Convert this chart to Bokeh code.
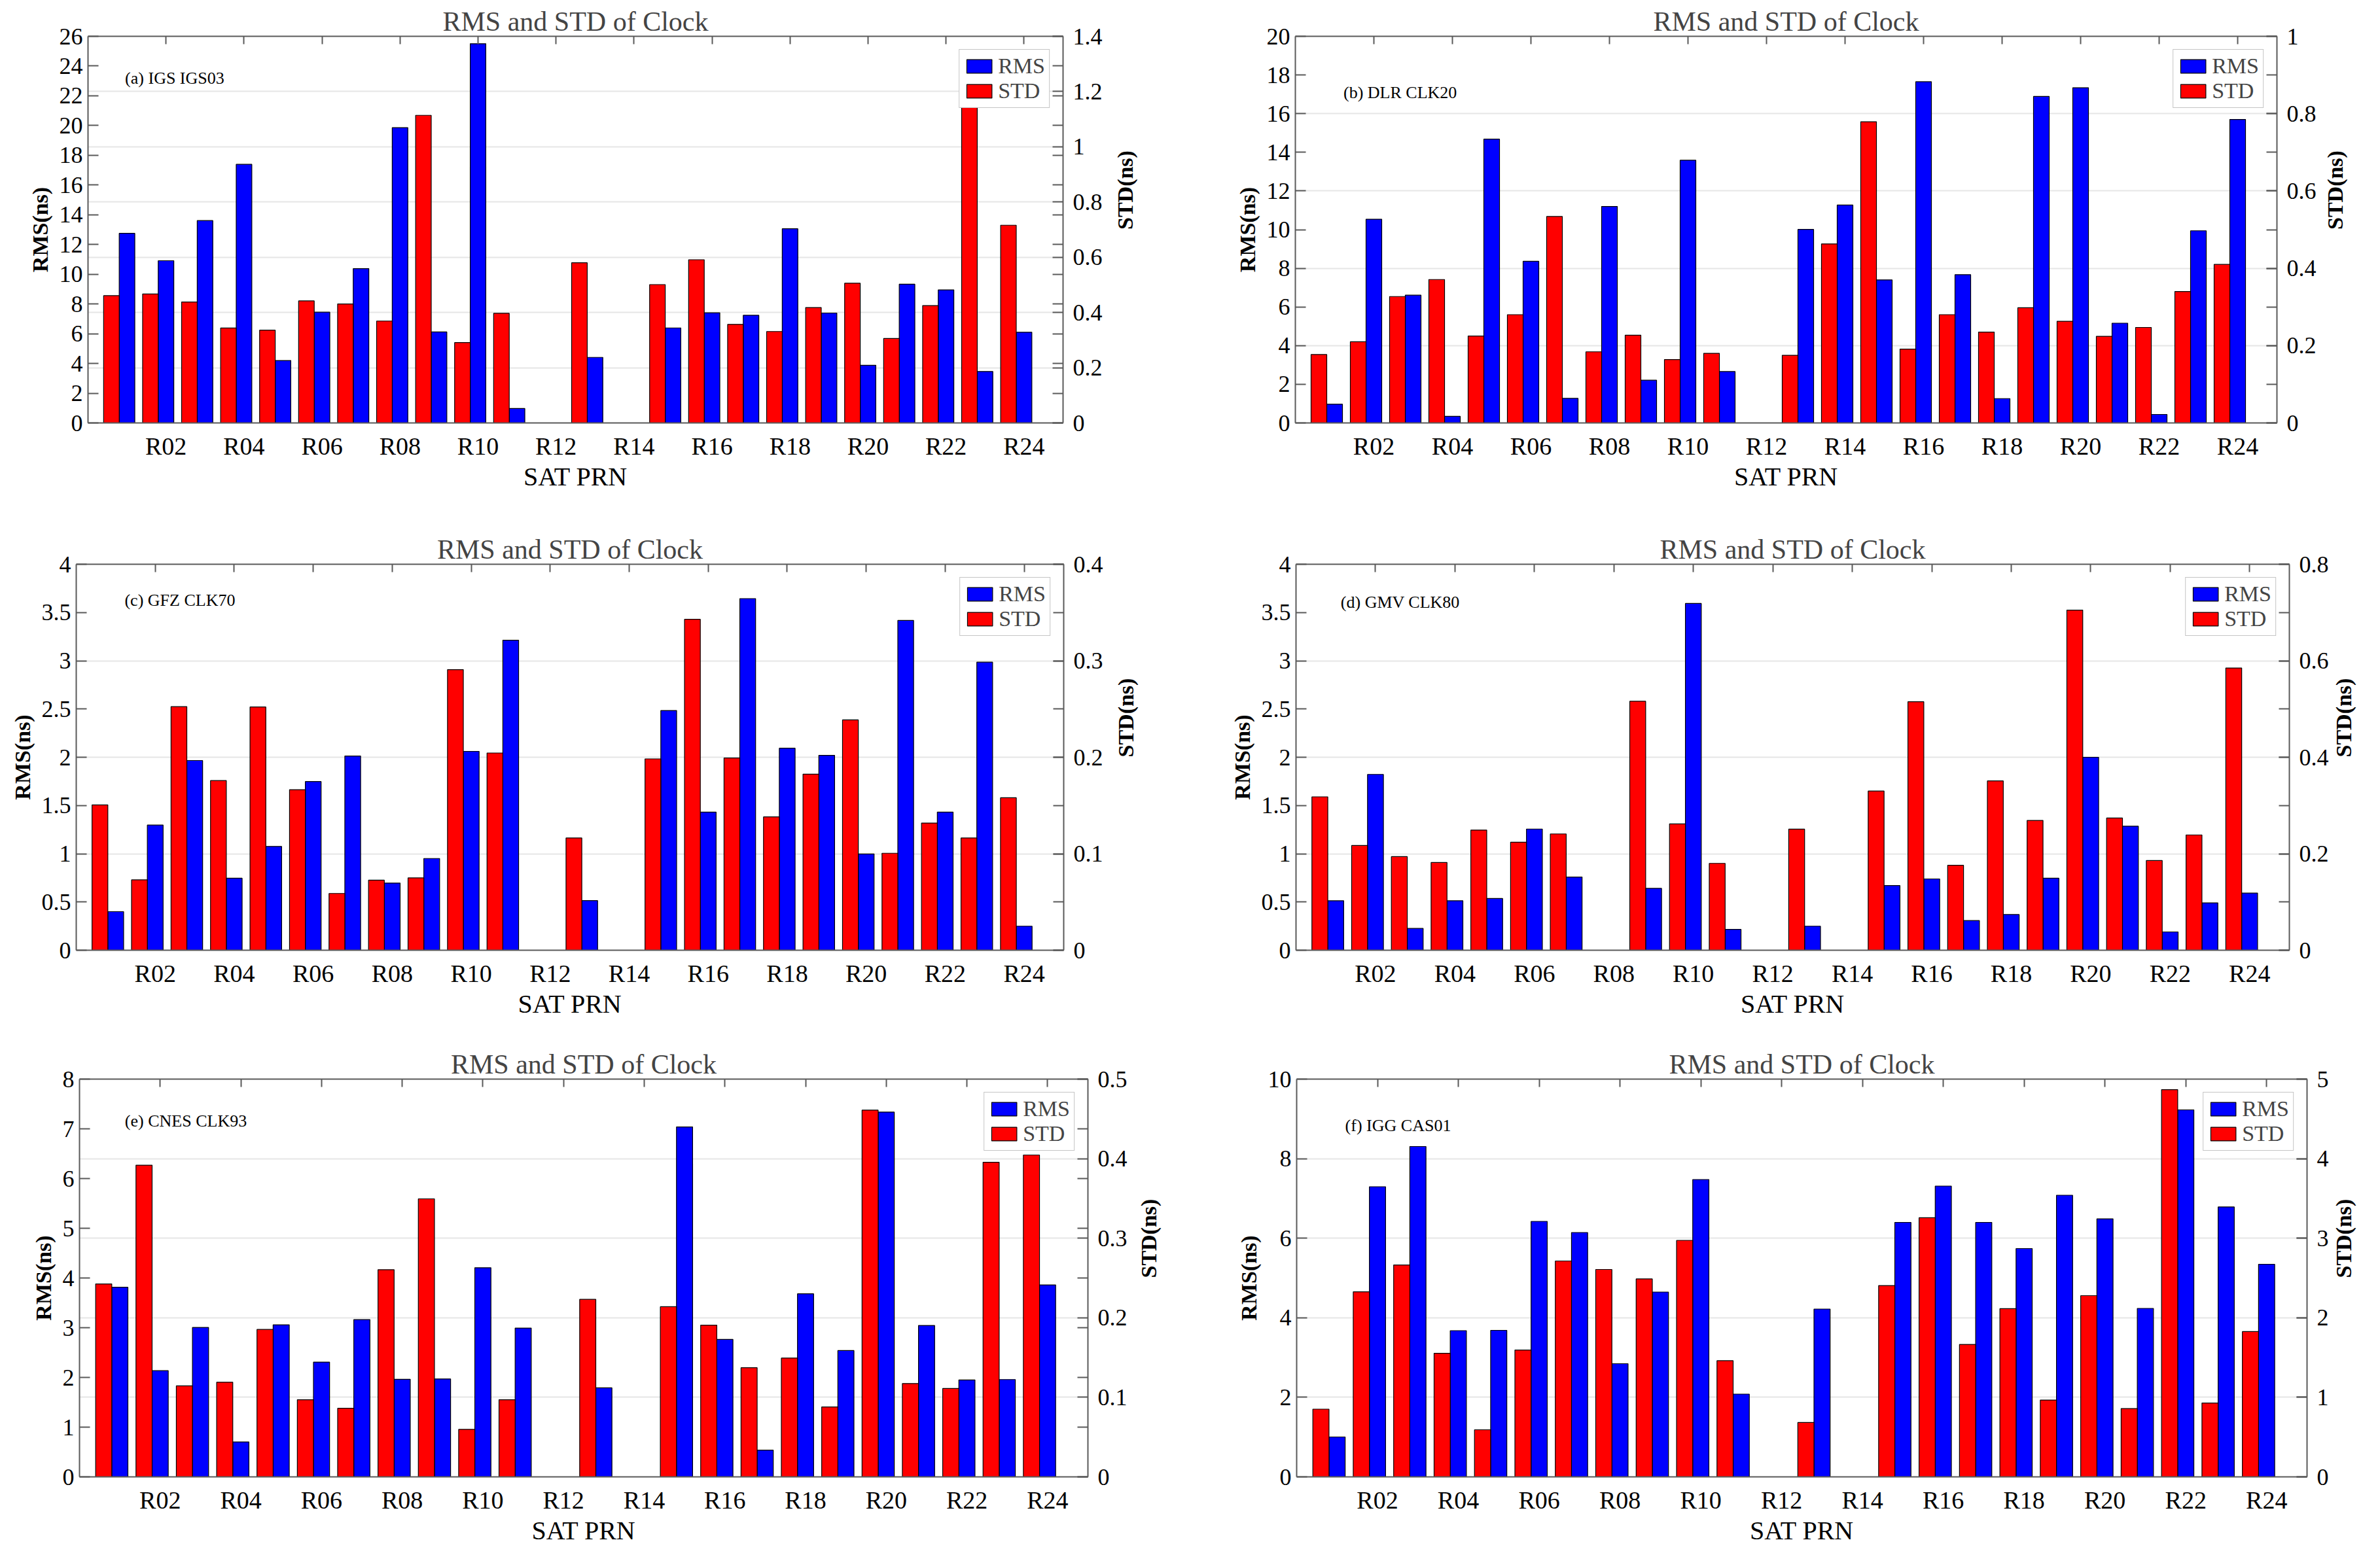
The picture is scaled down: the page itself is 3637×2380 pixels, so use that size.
import math
from bokeh.plotting import figure
from bokeh.models import (Range1d, LinearAxis, FixedTicker, Grid, ColumnDataSource,
                          Label, CustomJSTickFormatter)
from bokeh.transform import dodge
from bokeh.layouts import row, column
from bokeh.embed import file_html
from bokeh.resources import INLINE

nan = float("nan")

PRN = ["R%02d" % i for i in range(1, 25)]
X_TICK_PRN = PRN[1::2]          # R02 ... R24

TITLE = "RMS and STD of Clock"
X_LABEL = "SAT PRN"
Y_LABEL_LEFT = "RMS(ns)"
Y_LABEL_RIGHT = "STD(ns)"

# ---------------- (a) IGS IGS03 ----------------
A_TAG = "(a) IGS IGS03"
A_RMS = [12.75, 10.91, 13.61, 17.39, 4.20, 7.45, 10.38, 19.86, 6.12, 25.50, 0.97, nan,
         4.41, nan, 6.39, 7.41, 7.24, 13.06, 7.39, 3.88, 9.33, 8.95, 3.46, 6.10]
A_STD = [0.461, 0.467, 0.438, 0.344, 0.336, 0.442, 0.431, 0.369, 1.114, 0.291, 0.397, nan,
         0.580, nan, 0.501, 0.591, 0.357, 0.331, 0.418, 0.506, 0.306, 0.425, 1.300, 0.716]
A_RMS_TICKS = [0, 2, 4, 6, 8, 10, 12, 14, 16, 18, 20, 22, 24, 26]
A_STD_TICKS = [0, 0.2, 0.4, 0.6, 0.8, 1.0, 1.2, 1.4]

# ---------------- (b) DLR CLK20 ----------------
B_TAG = "(b) DLR CLK20"
B_RMS = [0.97, 10.54, 6.61, 0.34, 14.68, 8.36, 1.27, 11.20, 2.21, 13.59, 2.66, nan,
         10.01, 11.27, 7.40, 17.65, 7.67, 1.26, 16.89, 17.34, 5.16, 0.44, 9.94, 15.70]
B_STD = [0.177, 0.210, 0.327, 0.371, 0.225, 0.280, 0.534, 0.184, 0.227, 0.164, 0.180, nan,
         0.175, 0.463, 0.779, 0.191, 0.280, 0.235, 0.298, 0.263, 0.224, 0.247, 0.340, 0.410]
B_RMS_TICKS = [0, 2, 4, 6, 8, 10, 12, 14, 16, 18, 20]
B_STD_TICKS = [0, 0.2, 0.4, 0.6, 0.8, 1.0]

# ---------------- (c) GFZ CLK70 ----------------
C_TAG = "(c) GFZ CLK70"
C_RMS = [0.400, 1.297, 1.966, 0.746, 1.076, 1.748, 2.013, 0.696, 0.951, 2.061, 3.213, nan,
         0.514, nan, 2.484, 1.432, 3.644, 2.094, 2.020, 0.998, 3.418, 1.432, 2.985, 0.249]
C_STD = [0.1506, 0.0729, 0.2524, 0.1758, 0.2521, 0.1664, 0.0588, 0.0726, 0.0750, 0.2908, 0.2044, nan,
         0.1163, nan, 0.1983, 0.3429, 0.1993, 0.1382, 0.1825, 0.2387, 0.1005, 0.1318, 0.1163, 0.1580]
C_RMS_TICKS = [0, 0.5, 1, 1.5, 2, 2.5, 3, 3.5, 4]
C_STD_TICKS = [0, 0.1, 0.2, 0.3, 0.4]

# ---------------- (d) GMV CLK80 ----------------
D_TAG = "(d) GMV CLK80"
D_RMS = [0.513, 1.822, 0.226, 0.513, 0.536, 1.256, 0.759, nan, 0.641, 3.594, 0.216, nan,
         0.249, nan, 0.670, 0.739, 0.307, 0.370, 0.746, 2.000, 1.285, 0.190, 0.491, 0.592]
D_STD = [0.318, 0.217, 0.194, 0.182, 0.249, 0.224, 0.241, nan, 0.516, 0.262, 0.180, nan,
         0.251, nan, 0.330, 0.515, 0.176, 0.351, 0.269, 0.705, 0.274, 0.186, 0.239, 0.585]
D_RMS_TICKS = [0, 0.5, 1, 1.5, 2, 2.5, 3, 3.5, 4]
D_STD_TICKS = [0, 0.2, 0.4, 0.6, 0.8]

# ---------------- (e) CNES CLK93 ----------------
E_TAG = "(e) CNES CLK93"
E_RMS = [3.814, 2.136, 3.005, 0.703, 3.058, 2.308, 3.164, 1.963, 1.970, 4.206, 2.992, nan,
         1.791, nan, 7.038, 2.766, 0.537, 3.682, 2.541, 7.337, 3.045, 1.950, 1.957, 3.861]
E_STD = [0.2425, 0.3918, 0.1144, 0.1190, 0.1853, 0.0970, 0.0862, 0.2604, 0.3495, 0.0597, 0.0970, nan,
         0.2231, nan, 0.2139, 0.1907, 0.1372, 0.1493, 0.0879, 0.4610, 0.1173, 0.1111, 0.3955, 0.4046]
E_RMS_TICKS = [0, 1, 2, 3, 4, 5, 6, 7, 8]
E_STD_TICKS = [0, 0.1, 0.2, 0.3, 0.4, 0.5]

# ---------------- (f) IGG CAS01 ----------------
F_TAG = "(f) IGG CAS01"
F_RMS = [1.003, 7.294, 8.306, 3.676, 3.684, 6.423, 6.143, 2.845, 4.646, 7.475, 2.081, nan,
         4.219, nan, 6.398, 7.311, 6.398, 5.740, 7.081, 6.488, 4.235, 9.227, 6.785, 5.345]
F_STD = [0.851, 2.327, 2.664, 1.554, 0.592, 1.595, 2.714, 2.607, 2.488, 2.973, 1.460, nan,
         0.683, nan, 2.405, 3.257, 1.665, 2.114, 0.966, 2.278, 0.859, 4.868, 0.929, 1.826]
F_RMS_TICKS = [0, 2, 4, 6, 8, 10]
F_STD_TICKS = [0, 1, 2, 3, 4, 5]

FONT = "Liberation Serif"
AXIS_COLOR = "#5a5a5a"
FMT = "return Number(tick.toFixed(4)).toString();"


def style_axis(ax, tick_in, font_size="36px"):
    ax.major_tick_in = tick_in
    ax.major_tick_out = 0
    ax.minor_tick_in = 0
    ax.minor_tick_out = 0
    ax.axis_line_color = AXIS_COLOR
    ax.axis_line_width = 2
    ax.major_tick_line_color = AXIS_COLOR
    ax.major_tick_line_width = 2
    ax.major_label_text_font = FONT
    ax.major_label_text_font_size = font_size
    ax.major_label_text_color = "#000000"
    ax.axis_label_text_font = FONT
    ax.axis_label_text_color = "#000000"


def blank_axis(ax, tick_in):
    style_axis(ax, tick_in, font_size="0px")
    ax.formatter = CustomJSTickFormatter(code="return '';")
    ax.major_label_standoff = 0
    ax.axis_label = None


def panel(tag, rms, std, rms_ticks, std_ticks, geo, tag_pos, rlab_standoff):
    w, h, l, r, t, b = geo
    n = len(PRN)
    p = figure(width=w, height=h, x_range=Range1d(0, n + 1),
               y_range=Range1d(rms_ticks[0], rms_ticks[-1]),
               output_backend="svg", toolbar_location=None,
               min_border_left=l, min_border_right=r,
               min_border_top=t, min_border_bottom=b)
    p.extra_y_ranges = {"std": Range1d(std_ticks[0], std_ticks[-1])}
    p.outline_line_color = None
    p.background_fill_color = "#ffffff"
    p.border_fill_color = "#ffffff"
    p.xgrid.visible = False
    p.ygrid.visible = False

    src = ColumnDataSource(dict(x=list(range(1, n + 1)), prn=PRN, rms=rms, std=std))

    grid = Grid(dimension=1, ticker=FixedTicker(ticks=std_ticks), y_range_name="std",
                grid_line_color="#e6e6e6", grid_line_width=2)
    p.add_layout(grid)

    p.vbar(x="x", top="rms", width=0.4, source=src,
           fill_color="#0000FF", line_color="#000000", line_width=1.2,
           legend_label="RMS")
    p.vbar(x=dodge("x", -0.4), top="std", width=0.4, source=src, y_range_name="std",
           fill_color="#FF0000", line_color="#000000", line_width=1.2,
           legend_label="STD")

    xt = [i + 1 for i, s in enumerate(PRN) if s in X_TICK_PRN]
    xlab = {i + 1: s for i, s in enumerate(PRN) if s in X_TICK_PRN}

    # bottom axis
    xa = p.xaxis[0]
    xa.ticker = FixedTicker(ticks=xt)
    xa.major_label_overrides = xlab
    style_axis(xa, 0, font_size="38px")
    xa.major_label_standoff = 14
    xa.axis_label = X_LABEL
    xa.axis_label_text_font_size = "40px"
    xa.axis_label_text_font_style = "normal"
    xa.axis_label_standoff = 0

    # top mirrored ticks
    ta = LinearAxis(ticker=FixedTicker(ticks=xt))
    blank_axis(ta, 12)
    p.add_layout(ta, "above")

    # left axis (RMS)
    ya = p.yaxis[0]
    ya.ticker = FixedTicker(ticks=rms_ticks)
    ya.formatter = CustomJSTickFormatter(code=FMT)
    style_axis(ya, 16)
    ya.major_label_standoff = 8
    ya.axis_label = Y_LABEL_LEFT
    ya.axis_label_text_font_size = "34px"
    ya.axis_label_text_font_style = "bold"
    ya.axis_label_standoff = 8

    # right mirrored RMS ticks
    ma = LinearAxis(ticker=FixedTicker(ticks=rms_ticks))
    blank_axis(ma, 16)
    ma.axis_line_color = None
    p.add_layout(ma, "right")

    # right axis (STD)
    ra = LinearAxis(y_range_name="std", ticker=FixedTicker(ticks=std_ticks),
                    formatter=CustomJSTickFormatter(code=FMT))
    style_axis(ra, 16)
    ra.major_label_standoff = 15
    ra.axis_label = Y_LABEL_RIGHT
    ra.axis_label_text_font_size = "34px"
    ra.axis_label_text_font_style = "bold"
    ra.axis_label_standoff = rlab_standoff
    try:
        ra.axis_label_orientation = math.pi / 2
    except Exception:
        pass
    p.add_layout(ra, "right")

    # title
    p.title.text = TITLE
    p.title.align = "center"
    p.title.text_font = FONT
    p.title.text_font_size = "42px"
    p.title.text_font_style = "normal"
    p.title.standoff = 0

    # tag annotation
    fx, fy = tag_pos
    lab = Label(x=fx * (n + 1), y=rms_ticks[-1] * (1 - fy), text=tag,
                text_font=FONT, text_font_size="26px",
                text_baseline="middle", text_align="left", text_color="#000000")
    p.add_layout(lab)

    lg = p.legend[0]
    lg.location = "top_right"
    lg.margin = 20
    lg.padding = 6
    lg.spacing = 0
    lg.glyph_width = 48
    lg.glyph_height = 26
    lg.label_standoff = 5
    lg.label_text_font = FONT
    lg.label_text_font_size = "34px"
    lg.border_line_color = "#8c8c8c"
    lg.border_line_width = 1.5
    lg.background_fill_color = "#ffffff"
    lg.background_fill_alpha = 1.0
    return p


pa = panel(A_TAG, A_RMS, A_STD, A_RMS_TICKS, A_STD_TICKS, (1802, 777, 134, 178, 55, 126), (0.038, 0.109), 32)
pb = panel(B_TAG, B_RMS, B_STD, B_RMS_TICKS, B_STD_TICKS, (1819, 777, 177, 142, 47, 131), (0.049, 0.145), 26)
pc = panel(C_TAG, C_RMS, C_STD, C_RMS_TICKS, C_STD_TICKS, (1802, 790, 116, 177, 85, 114), (0.049, 0.094), 32)
pd = panel(D_TAG, D_RMS, D_STD, D_RMS_TICKS, D_STD_TICKS, (1819, 790, 178, 119, 68, 115), (0.045, 0.099), 20)
pe = panel(E_TAG, E_RMS, E_STD, E_RMS_TICKS, E_STD_TICKS, (1802, 797, 121, 140, 82, 101), (0.045, 0.106), 30)
pf = panel(F_TAG, F_RMS, F_STD, F_RMS_TICKS, F_STD_TICKS, (1819, 797, 179, 92, 76, 101), (0.048, 0.116), 20)

layout = column(row(pa, pb), row(pc, pd), row(pe, pf))

open("out.html", "w").write(file_html(layout, INLINE))
